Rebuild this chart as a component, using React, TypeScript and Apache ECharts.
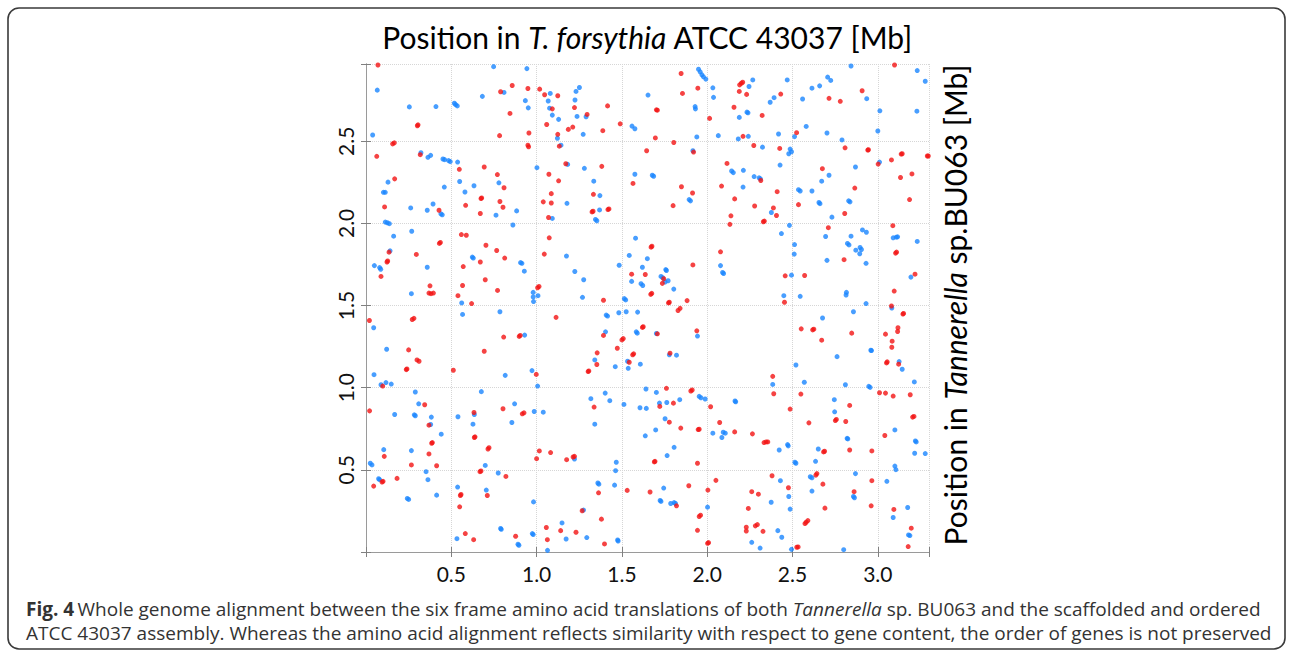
import React, { useEffect, useRef } from "react";
import * as echarts from "echarts";

// Tick labels shown on the axes
const xTickLabels = ["0.5", "1.0", "1.5", "2.0", "2.5", "3.0"];
const yTickLabels = ["0.5", "1.0", "1.5", "2.0", "2.5"];

// Axis extents [Mb]
const xMax = 3.3;
const yMax = 2.97;

// Red alignment hits [x = T. forsythia position, y = Tannerella sp. BU063 position] (Mb)
const redPoints: number[][] = [
  [0.070,2.964],[0.857,2.839],[0.789,2.801],[0.949,2.821],[1.018,2.817],[1.047,2.783],[0.844,2.669],[0.305,2.600],[0.301,2.594],[1.059,2.602],[0.783,2.534],[0.955,2.550],[0.156,2.484],[0.166,2.490],[0.949,2.476],[0.953,2.466],[0.063,2.408],[0.318,2.418],[0.547,2.329],[0.693,2.343],[0.770,2.297],[1.072,2.299],[0.168,2.271],[0.809,2.217],[1.086,2.181],[0.678,2.155],[0.674,2.151],[0.785,2.133],[1.039,2.131],[1.086,2.124],[0.109,2.100],[0.584,2.110],[0.803,2.098],[0.428,2.080],[0.670,2.060],[1.070,2.036],[0.559,1.932],[0.588,1.928],[1.074,1.912],[0.436,1.884],[0.430,1.878],[0.703,1.867],[0.135,1.825],[0.766,1.835],[0.295,1.811],[1.045,1.813],[0.813,1.789],[0.127,1.771],[0.123,1.765],[0.570,1.737],[0.670,1.765],[0.088,1.677],[0.699,1.657],[0.375,1.620],[0.566,1.622],[1.014,1.616],[1.006,1.608],[0.369,1.576],[0.381,1.572],[0.395,1.576],[0.771,1.592],[0.539,1.560],[0.619,1.512],
  [1.124,2.777],[1.222,2.705],[1.092,2.697],[1.296,2.663],[1.416,2.715],[1.186,2.572],[1.212,2.586],[1.124,2.542],[1.388,2.564],[1.490,2.606],[1.133,2.470],[1.696,2.520],[1.804,2.492],[1.847,2.912],[1.945,2.823],[1.855,2.791],[1.708,2.689],[1.702,2.691],[2.014,2.639],[2.157,2.707],[1.645,2.442],[1.920,2.434],[1.171,2.363],[1.382,2.347],[1.129,2.259],[1.565,2.243],[2.116,2.365],[2.084,2.227],[1.849,2.223],[1.914,2.185],[1.333,2.177],[1.800,2.108],[2.161,2.149],[1.325,2.070],[1.331,2.074],[1.424,2.088],[1.418,2.084],[2.139,2.046],[2.133,1.994],[1.676,1.861],[1.671,1.855],[2.078,1.827],[1.916,1.747],[1.557,1.691],[1.637,1.689],[1.745,1.663],[1.737,1.635],[1.669,1.568],[1.675,1.574],[1.392,1.532],[1.882,1.530],[1.778,1.520],[1.773,1.516],
  [2.190,2.843],[2.200,2.853],[2.208,2.859],[2.188,2.803],[2.231,2.785],[2.431,2.787],[2.322,2.657],[2.210,2.530],[2.524,2.552],[2.714,2.761],[2.780,2.743],[2.908,2.807],[3.098,2.964],[2.273,2.474],[2.425,2.456],[2.808,2.460],[2.941,2.446],[2.945,2.448],[3.080,2.386],[3.137,2.422],[3.143,2.424],[3.290,2.410],[3.296,2.410],[3.002,2.361],[2.314,2.261],[2.675,2.333],[3.133,2.279],[3.200,2.301],[2.410,2.193],[2.865,2.215],[3.186,2.145],[2.278,2.106],[2.388,2.094],[2.406,2.048],[2.535,2.114],[2.806,2.060],[2.329,2.010],[2.335,2.014],[2.710,1.974],[3.088,1.986],[3.110,1.825],[3.104,1.819],[2.802,1.779],[2.457,1.681],[2.571,1.683],[3.218,1.691],[3.096,1.588],[2.453,1.520],
  [0.020,1.409],[0.271,1.415],[0.281,1.422],[0.807,1.308],[0.898,1.312],[0.904,1.318],[0.250,1.230],[0.693,1.222],[0.299,1.169],[0.311,1.161],[0.240,1.114],[0.236,1.110],[0.512,1.106],[0.998,1.081],[0.098,1.010],[0.021,0.859],[0.344,0.896],[0.633,0.849],[0.803,0.872],[0.916,0.841],[0.926,0.847],[0.369,0.772],[0.639,0.701],[0.635,0.697],[0.385,0.662],[0.389,0.666],[0.715,0.627],[0.721,0.635],[0.107,0.582],[0.369,0.597],[1.016,0.615],[1.082,0.605],[1.000,0.568],[0.266,0.530],[0.414,0.525],[0.674,0.493],[0.668,0.489],[0.820,0.460],[0.094,0.426],[0.100,0.430],[0.045,0.401],[0.182,0.448],[0.557,0.350],[0.553,0.344],[0.711,0.344],[0.549,0.275],[1.057,0.149],[0.582,0.112],[0.631,0.075],[0.877,0.096],[1.063,0.075],
  [1.114,1.428],[1.829,1.470],[1.841,1.483],[1.625,1.371],[1.620,1.367],[1.392,1.318],[1.708,1.328],[1.939,1.346],[1.508,1.299],[1.500,1.291],[1.473,1.240],[1.355,1.212],[1.569,1.206],[1.563,1.200],[1.782,1.210],[1.353,1.141],[1.543,1.155],[1.302,1.098],[1.306,1.102],[1.761,0.996],[1.904,0.980],[1.912,0.986],[1.337,0.882],[1.722,0.886],[1.802,0.906],[2.020,0.884],[1.778,0.790],[1.845,0.754],[1.947,0.745],[1.953,0.747],[2.073,0.788],[2.161,0.731],[1.690,0.548],[1.694,0.552],[1.943,0.540],[1.176,0.562],[1.214,0.578],[1.222,0.582],[1.363,0.360],[1.531,0.375],[1.665,0.365],[1.892,0.403],[2.051,0.436],[2.004,0.377],[1.820,0.281],[1.267,0.251],[1.380,0.200],[1.953,0.216],[1.961,0.224],[1.141,0.130],[1.231,0.120],[1.943,0.132],[1.398,0.049],[2.008,0.057],[2.002,0.053],
  [3.080,1.497],[3.147,1.448],[3.151,1.452],[2.551,1.358],[2.618,1.352],[2.625,1.356],[2.847,1.332],[3.118,1.365],[3.116,1.342],[3.045,1.326],[2.671,1.289],[3.084,1.283],[3.082,1.246],[3.051,1.151],[3.055,1.157],[3.122,1.143],[2.384,1.069],[2.390,0.963],[2.549,0.961],[3.010,0.969],[3.045,0.967],[3.090,0.949],[3.190,0.957],[2.835,0.892],[2.486,0.870],[2.751,0.800],[2.757,0.807],[2.812,0.794],[2.596,0.786],[3.204,0.821],[3.212,0.825],[2.265,0.719],[3.041,0.709],[2.333,0.666],[2.345,0.670],[2.355,0.670],[2.682,0.609],[2.688,0.613],[2.835,0.621],[2.965,0.615],[2.380,0.464],[2.637,0.468],[2.643,0.477],[2.965,0.434],[2.678,0.413],[2.476,0.391],[2.261,0.367],[2.300,0.352],[2.861,0.367],[2.961,0.281],[2.241,0.265],[2.690,0.267],[3.094,0.259],[2.573,0.173],[2.580,0.181],[2.590,0.191],[2.229,0.151],[2.229,0.128],[2.282,0.159],[2.294,0.167],[2.327,0.126],[3.196,0.145],[3.178,0.033],[2.525,0.029],[2.533,0.031],
];

// Blue alignment hits (Mb)
const bluePoints: number[][] = [
  [0.748,2.954],[0.943,2.942],[0.066,2.811],[0.809,2.797],[1.080,2.791],[0.682,2.773],[0.254,2.709],[0.410,2.711],[0.518,2.731],[0.525,2.723],[0.535,2.715],[0.934,2.747],[1.068,2.745],[0.951,2.703],[1.076,2.701],[0.039,2.538],[0.322,2.430],[0.363,2.402],[0.379,2.414],[0.451,2.392],[0.461,2.388],[0.484,2.382],[0.494,2.376],[0.537,2.373],[1.002,2.339],[0.129,2.251],[0.549,2.255],[0.779,2.247],[0.633,2.229],[0.459,2.221],[0.102,2.189],[0.113,2.189],[0.580,2.191],[0.262,2.094],[0.359,2.080],[0.393,2.118],[0.439,2.058],[0.447,2.052],[0.883,2.076],[0.762,2.050],[1.092,2.030],[0.113,2.008],[0.125,2.004],[0.137,1.998],[0.861,1.990],[0.162,1.922],[0.268,1.952],[0.141,1.833],[0.623,1.795],[0.629,1.789],[0.049,1.743],[0.080,1.731],[0.086,1.721],[0.359,1.733],[0.906,1.761],[0.914,1.757],[0.928,1.709],[0.266,1.572],[0.980,1.580],[1.008,1.560],[0.980,1.552],[0.982,1.524],[0.561,1.516],
  [1.231,2.803],[1.251,2.827],[1.225,2.751],[1.092,2.659],[1.129,2.633],[1.237,2.651],[1.290,2.649],[1.122,2.518],[1.273,2.542],[1.143,2.476],[1.559,2.592],[1.576,2.576],[1.949,2.938],[1.959,2.922],[1.969,2.904],[1.978,2.892],[1.992,2.878],[1.653,2.781],[1.929,2.711],[1.931,2.697],[2.033,2.825],[2.037,2.767],[1.939,2.526],[2.065,2.534],[2.182,2.514],[1.916,2.442],[1.182,2.359],[1.280,2.335],[1.335,2.257],[1.576,2.299],[1.678,2.293],[1.686,2.287],[2.143,2.319],[2.153,2.309],[1.894,2.145],[1.902,2.137],[1.178,2.122],[1.371,2.169],[1.369,2.082],[1.345,2.024],[1.353,2.016],[1.580,1.910],[1.175,1.801],[1.543,1.805],[1.649,1.785],[1.484,1.745],[1.620,1.733],[2.078,1.743],[1.757,1.719],[1.761,1.713],[2.090,1.701],[2.096,1.695],[1.224,1.707],[1.729,1.677],[1.739,1.669],[1.753,1.643],[1.771,1.651],[1.557,1.647],[1.612,1.633],[1.622,1.622],[1.276,1.657],[1.804,1.600],[1.269,1.550],[1.514,1.542],[1.522,1.534],
  [2.245,2.833],[2.267,2.873],[2.233,2.677],[2.239,2.673],[2.188,2.645],[2.369,2.737],[2.392,2.765],[2.469,2.873],[2.241,2.530],[2.418,2.544],[2.512,2.528],[2.580,2.590],[2.559,2.757],[2.614,2.823],[2.659,2.837],[2.706,2.890],[2.724,2.870],[2.843,2.958],[2.935,2.759],[3.012,2.685],[3.231,2.930],[3.278,2.865],[3.229,2.683],[2.702,2.550],[2.790,2.508],[3.000,2.562],[2.324,2.464],[2.486,2.452],[2.494,2.436],[2.478,2.424],[3.010,2.373],[2.212,2.323],[2.275,2.285],[2.304,2.277],[2.312,2.271],[2.427,2.355],[2.714,2.293],[2.671,2.257],[2.869,2.343],[2.210,2.221],[2.535,2.205],[2.545,2.197],[2.614,2.197],[2.376,2.066],[2.655,2.127],[2.661,2.120],[2.829,2.137],[2.837,2.131],[2.731,2.038],[2.482,1.988],[2.435,1.938],[2.694,1.920],[2.910,1.960],[2.933,1.946],[2.843,1.922],[3.090,1.912],[3.108,1.916],[3.116,1.918],[3.231,1.890],[2.512,1.871],[2.822,1.878],[2.831,1.869],[2.896,1.853],[2.904,1.841],[2.871,1.837],[2.894,1.815],[2.510,1.813],[2.702,1.775],[2.931,1.757],[2.494,1.685],[3.194,1.673],[2.816,1.580],[2.814,1.564],[2.449,1.560],[2.545,1.556],[2.931,1.512],
  [0.045,1.365],[0.566,1.446],[0.785,1.462],[0.930,1.320],[0.121,1.234],[0.047,1.079],[0.816,1.075],[0.973,1.104],[0.088,1.018],[0.117,1.031],[0.148,1.022],[1.006,1.010],[0.289,0.974],[0.676,0.976],[0.309,0.902],[0.168,0.837],[0.283,0.835],[0.289,0.829],[0.383,0.821],[0.539,0.823],[0.635,0.837],[0.871,0.902],[0.986,0.855],[1.039,0.851],[0.379,0.776],[0.627,0.778],[0.855,0.788],[0.441,0.717],[0.104,0.623],[0.266,0.617],[0.025,0.540],[0.035,0.530],[0.699,0.527],[0.352,0.489],[0.775,0.481],[0.074,0.446],[0.080,0.440],[0.363,0.440],[0.537,0.395],[0.705,0.377],[0.242,0.326],[0.250,0.320],[0.414,0.346],[0.982,0.305],[0.789,0.143],[0.793,0.138],[0.533,0.081],[0.975,0.112],[0.980,0.106],[0.891,0.047],[0.896,0.041],[1.064,0.010],
  [1.408,1.442],[1.416,1.436],[1.482,1.456],[1.525,1.462],[1.592,1.460],[1.404,1.340],[1.584,1.340],[1.590,1.332],[1.702,1.330],[1.943,1.314],[1.778,1.200],[1.820,1.198],[1.341,1.169],[1.533,1.161],[1.461,1.128],[1.537,1.118],[1.608,1.143],[1.641,0.992],[1.702,0.971],[1.402,0.967],[1.318,0.933],[1.429,0.921],[1.512,0.898],[1.606,0.878],[1.643,0.874],[1.720,0.906],[1.763,0.910],[1.839,0.927],[1.953,0.947],[1.963,0.939],[1.988,0.931],[2.163,0.919],[2.167,0.914],[1.341,0.778],[1.753,0.811],[1.698,0.743],[2.033,0.723],[2.094,0.729],[2.106,0.723],[2.086,0.697],[1.637,0.707],[1.806,0.637],[1.765,0.587],[1.222,0.566],[1.467,0.546],[1.463,0.495],[1.359,0.420],[1.365,0.413],[1.457,0.407],[1.745,0.389],[1.724,0.314],[1.729,0.308],[1.786,0.295],[1.806,0.301],[1.814,0.295],[2.002,0.273],[1.275,0.255],[1.149,0.177],[1.173,0.079],[1.294,0.088],[1.475,0.073],[1.478,0.067],
  [3.082,1.485],[2.857,1.462],[2.676,1.424],[2.959,1.228],[2.963,1.226],[2.761,1.189],[3.125,1.159],[3.143,1.112],[2.520,1.138],[2.384,1.020],[2.569,1.033],[2.810,1.018],[2.947,1.008],[2.955,1.002],[3.214,1.035],[2.745,0.927],[2.747,0.853],[2.820,0.692],[2.824,0.688],[3.100,0.743],[3.220,0.676],[3.225,0.670],[2.471,0.654],[2.475,0.646],[2.422,0.621],[2.651,0.627],[3.216,0.601],[3.278,0.599],[2.514,0.546],[2.520,0.540],[2.635,0.552],[3.100,0.523],[3.106,0.501],[2.429,0.434],[2.604,0.458],[2.614,0.452],[2.869,0.477],[3.053,0.430],[2.614,0.371],[2.478,0.338],[2.857,0.338],[2.863,0.330],[2.375,0.303],[2.486,0.261],[3.175,0.271],[3.090,0.210],[2.414,0.130],[2.437,0.090],[2.261,0.059],[3.180,0.104],[3.188,0.100],[2.310,0.024],[2.494,0.016],[2.800,0.014],
];

const captionLine1 = "Whole genome alignment between the six frame amino acid translations of both ";
const captionLine1b = " sp. BU063 and the scaffolded and ordered";
const captionLine2 = "ATCC 43037 assembly. Whereas the amino acid alignment reflects similarity with respect to gene content, the order of genes is not preserved";

const CHART_FONT = "Lato, 'Open Sans', sans-serif";
const CAPTION_FONT = "'Open Sans', 'Noto Sans', sans-serif";

function fmt(labels: string[]) {
  return (v: number) => {
    const s = v.toFixed(1);
    return labels.includes(s) && Math.abs(v * 2 - Math.round(v * 2)) < 1e-6 ? s : "";
  };
}

export default function App() {
  const ref = useRef<HTMLDivElement>(null);

  useEffect(() => {
    if (!ref.current) return;
    const chart = echarts.init(ref.current, null, { renderer: "svg" });

    const axisLineStyle = { show: true, lineStyle: { color: "#9a9a9a", width: 1 } };
    const tickStyle = { show: true, inside: true, length: 5, lineStyle: { color: "#808080", width: 1 } };
    const splitStyle = { show: true, lineStyle: { color: "#d6d6d6", type: "dotted" as const, width: 1 } };

    chart.setOption({
      animation: false,
      backgroundColor: "#ffffff",
      grid: { left: 366, right: 364, top: 64, bottom: 99, containLabel: false },
      xAxis: [
        {
          type: "value", position: "bottom", min: 0, max: xMax, interval: 0.5,
          axisLine: axisLineStyle, axisTick: tickStyle, splitLine: splitStyle,
          axisLabel: { show: true, formatter: fmt(xTickLabels), fontSize: 21, fontFamily: CHART_FONT, color: "#111", margin: 11 },
        },
        {
          type: "value", position: "top", min: 0, max: xMax, interval: 0.5,
          axisLine: axisLineStyle, axisTick: tickStyle, splitLine: { show: false },
          axisLabel: { show: false },
        },
      ],
      yAxis: [
        {
          type: "value", position: "left", min: 0, max: yMax, interval: 0.5,
          axisLine: axisLineStyle, axisTick: tickStyle, splitLine: splitStyle,
          axisLabel: { show: true, rotate: 90, formatter: fmt(yTickLabels), fontSize: 21, fontFamily: CHART_FONT, color: "#111", margin: 10 },
        },
        {
          type: "value", position: "right", min: 0, max: yMax, interval: 0.5,
          axisLine: axisLineStyle, axisTick: tickStyle, splitLine: { show: false },
          axisLabel: { show: false },
        },
      ],
      series: [
        {
          type: "scatter", xAxisIndex: 0, yAxisIndex: 0, data: bluePoints,
          symbol: "circle", symbolSize: 5, itemStyle: { color: "#1a86ff" },
        },
        {
          type: "scatter", xAxisIndex: 0, yAxisIndex: 0, data: redPoints,
          symbol: "circle", symbolSize: 5, itemStyle: { color: "#f21414" },
        },
      ],
      graphic: [
        {
          type: "rect", z: -1, silent: true,
          shape: { x: 8, y: 8, width: 1277, height: 641, r: 11 },
          style: { fill: "none", stroke: "#3a3a3a", lineWidth: 1.6 },
        },
        {
          type: "text", x: 647.5, y: 37,
          style: {
            text: "{n|Position in }{i|T. forsythia}{n| ATCC 43037 [Mb]}",
            align: "center", verticalAlign: "middle",
            rich: {
              n: { fontFamily: CHART_FONT, fontSize: 30, fill: "#000" },
              i: { fontFamily: CHART_FONT, fontSize: 30, fontStyle: "italic", fill: "#000" },
            },
          },
        },
        {
          type: "text", x: 955, y: 305, rotation: Math.PI / 2,
          style: {
            text: "{n|Position in }{i|Tannerella}{n| sp.BU063 [Mb]}",
            align: "center", verticalAlign: "middle",
            rich: {
              n: { fontFamily: CHART_FONT, fontSize: 30, fill: "#000" },
              i: { fontFamily: CHART_FONT, fontSize: 30, fontStyle: "italic", fill: "#000" },
            },
          },
        },
        {
          type: "text", x: 26, y: 608.5,
          style: {
            text: "{b|Fig. 4} {n|" + captionLine1 + "}{i|Tannerella}{n|" + captionLine1b + "}",
            align: "left", verticalAlign: "middle",
            rich: {
              b: { fontFamily: CAPTION_FONT, fontSize: 19, lineHeight: 21, fontWeight: "bold", fill: "#333" },
              n: { fontFamily: CAPTION_FONT, fontSize: 19, lineHeight: 21, fill: "#333" },
              i: { fontFamily: CAPTION_FONT, fontSize: 19, lineHeight: 21, fontStyle: "italic", fill: "#333" },
            },
          },
        },
        {
          type: "text", x: 26, y: 632.5,
          style: {
            text: captionLine2,
            align: "left", verticalAlign: "middle",
            fontFamily: CAPTION_FONT, fontSize: 19, lineHeight: 21, fill: "#333",
          },
        },
      ],
    });

    return () => chart.dispose();
  }, []);

  return (
    <div
      ref={ref}
      style={{ position: "fixed", left: 0, top: 0, width: 1293, height: 651, background: "#fff" }}
    />
  );
}
